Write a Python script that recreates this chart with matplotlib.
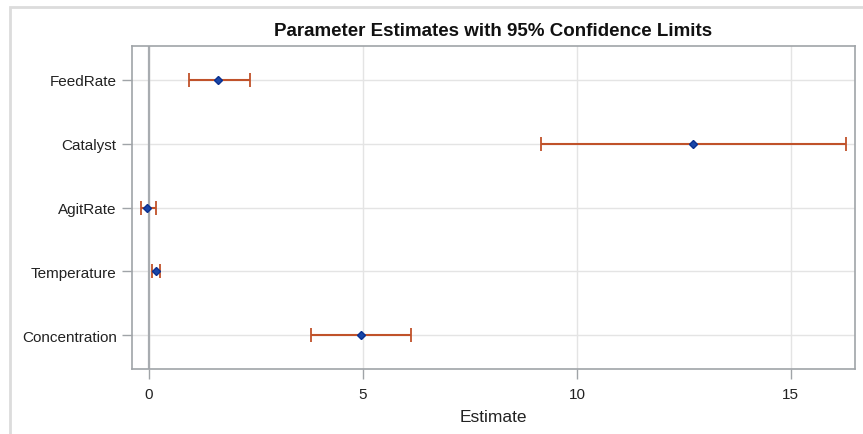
import matplotlib.pyplot as plt
from matplotlib.patches import Rectangle

params = ["FeedRate", "Catalyst", "AgitRate", "Temperature", "Concentration"]
estimate = [1.60, 12.71, -0.05, 0.15, 4.95]
lower = [0.93, 9.17, -0.19, 0.07, 3.78]
upper = [2.36, 16.30, 0.15, 0.26, 6.13]

plt.rcParams["font.family"] = ["Liberation Sans", "DejaVu Sans"]

fig = plt.figure(figsize=(8.63, 4.35), dpi=100)
ax = fig.add_axes([132 / 863, 1 - 370 / 435, (855 - 132) / 863, (370 - 47) / 435])

# outer frame like the SAS graph border
fig.patches.append(Rectangle((10 / 863, -0.02), 1.0, 1.02 - 8 / 435, transform=fig.transFigure,
                             fill=False, edgecolor="#dcdcdc", linewidth=2, zorder=0))

ypos = list(range(len(params)))
err_lo = [e - l for e, l in zip(estimate, lower)]
err_hi = [u - e for e, u in zip(estimate, upper)]

ax.axvline(0, color="#a8acb0", linewidth=1.6, zorder=1)
ax.errorbar(estimate, ypos, xerr=[err_lo, err_hi], fmt="none", ecolor="#c0522a",
            elinewidth=1.5, capsize=5, capthick=1.3, zorder=3)
ax.plot(estimate, ypos, linestyle="none", marker="D", markersize=4.5,
        color="#1846a8", markeredgecolor="#0a3090", zorder=4)

ax.set_xlim(-0.4, 16.5)
ax.set_ylim(4.53, -0.53)
ax.set_xticks([0, 5, 10, 15])
ax.set_yticks(ypos)
ax.set_yticklabels(params)
ax.grid(True, color="#e4e4e4", linewidth=1)
ax.set_axisbelow(True)

for s in ax.spines.values():
    s.set_color("#a0a4a8")
    s.set_linewidth(1.2)
ax.tick_params(axis="both", colors="#a0a4a8", labelcolor="#222222", labelsize=11, length=7, width=1)
ax.tick_params(axis="y", pad=4)
ax.tick_params(axis="x", pad=6)

ax.set_xlabel("Estimate", fontsize=12.5, color="#222222", labelpad=6)
ax.set_title("Parameter Estimates with 95% Confidence Limits", fontsize=13.5,
             fontweight="bold", color="#111111", pad=8)

fig.savefig("out.png", dpi=100)
